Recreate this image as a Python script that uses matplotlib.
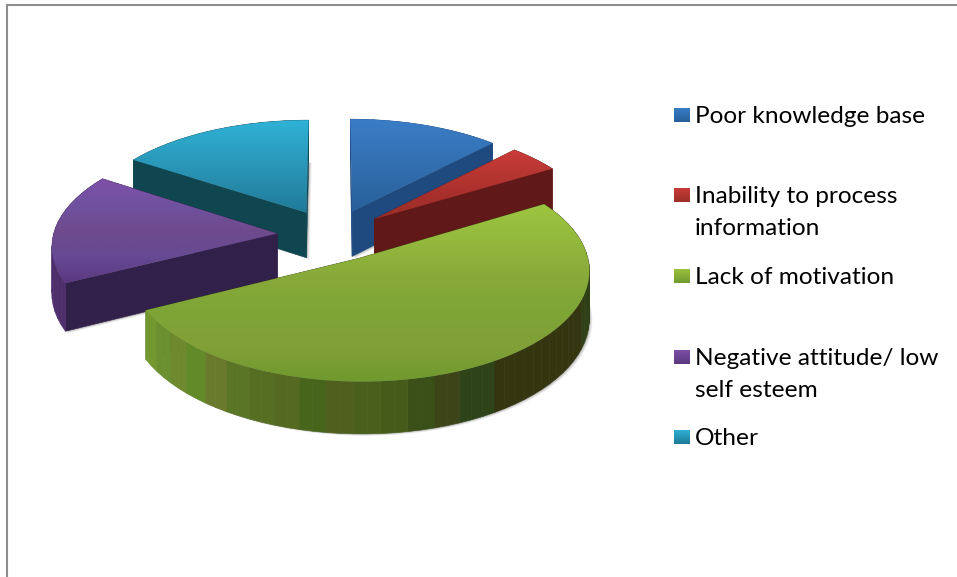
import numpy as np
import matplotlib
matplotlib.use("Agg")
import matplotlib.pyplot as plt
from matplotlib.patches import Polygon
from matplotlib.colors import LinearSegmentedColormap

labels = ["Poor knowledge base", "Inability to process\ninformation", "Lack of motivation",
          "Negative attitude/ low\nself esteem", "Other"]
values = [12.2, 4.2, 51.2, 16.6, 15.8]
top_colors = [["#3a7dc8", "#3674b8", "#2f6aa8", "#27609a"],
              ["#cb3c3a", "#b83632", "#a82f2c", "#9c2f28"],
              ["#9dc440", "#94b93d", "#88aa3a", "#7ea536", "#82a038", "#6f9a2e"],
              ["#7f50a8", "#7052a0", "#6f4a8c", "#664a94", "#5a3880"],
              ["#2eb2d6", "#2ca4c6", "#2a96b8", "#2588a8", "#1f7a98"]]
wall_colors = ["#1f4a80", "#601818", "#3a4a18", "#312049", "#0f4650"]
arc_colors = [["#1f4a80"], ["#601818"],
              ["#2f4016", "#2f4016", "#2f4016", "#2f4016", "#2f3f15", "#2f3f15", "#2f4016", "#2f3f15",
               "#33360f", "#33360f", "#33360f", "#33360f", "#33360f", "#33360f",
               "#2e4418", "#3d4418", "#3a5018", "#465a1a", "#4a5f1c", "#4f5f1e", "#48651c",
               "#556a20", "#556e22", "#5a7526", "#6a7a2c", "#628a28", "#6f8a2e", "#6a9030", "#72982f"],
              ["#4e2e6b", "#3d2558"], ["#0f4650"]]
draw_order = [4, 0, 1, 3, 2]
legend_y = [115, 195, 276, 357, 437]

W, H = 957, 577
CX, CY, R, B, K, DEPTH, EXPLODE = 332, 235, 224, 106, 0.10, 46, 0.245

fig = plt.figure(figsize=(W / 100, H / 100), dpi=100)
ax = fig.add_axes([7 / W, 0, (W - 7) / W, (H - 5) / H])
ax.set_xticks([]); ax.set_yticks([])
for s in ("right", "bottom"):
    ax.spines[s].set_visible(False)
for s in ("left", "top"):
    ax.spines[s].set_color("#8e8e8e"); ax.spines[s].set_linewidth(1.5)


def project(u, v, lift=0.0):
    s = 1 / (1 + K * np.asarray(v))
    return CX + R * np.asarray(u) * s, CY - B * np.asarray(v) * s + lift * s


def gradient(poly_xy, colors, zorder):
    poly = Polygon(poly_xy, closed=True, fc="none", ec="none", transform=ax.transData, zorder=zorder)
    ax.add_patch(poly)
    x0, y0 = poly_xy.min(axis=0); x1, y1 = poly_xy.max(axis=0)
    cmap = LinearSegmentedColormap.from_list("g", colors)
    im = ax.imshow(np.linspace(0, 1, 128)[:, None], cmap=cmap, aspect="auto", origin="upper",
                   extent=(x0, x1, y1, y0), zorder=zorder, interpolation="bilinear")
    im.set_clip_path(poly)


edges = np.radians(np.concatenate([[0], np.cumsum(values)]) * 360 / sum(values))
z = 1.0
for i in draw_order:
    a0, a1 = edges[i], edges[i + 1]
    mid = (a0 + a1) / 2
    ou, ov = EXPLODE * np.sin(mid), EXPLODE * np.cos(mid)
    t = np.linspace(a0, a1, max(6, int(np.degrees(a1 - a0) / 3)))
    u = ou + np.sin(t); v = ov + np.cos(t)
    tu = np.r_[ou, u]; tv = np.r_[ov, v]
    x, y = project(tu, tv)
    xb, yb = project(tu, tv, DEPTH)
    # soft shadow of the bottom outline
    for off, al in ((3, 0.10), (2, 0.15), (1, 0.2)):
        ax.add_patch(Polygon(np.c_[xb, yb] + [off, off * 0.6], closed=True, fc="#555555", ec="none",
                             alpha=al, zorder=z))
    z += 0.01
    # walls, back to front
    walls = []
    n = len(x)
    for a, b, col in ((0, 1, wall_colors[i]), (n - 1, 0, wall_colors[i])):
        walls.append((tv[a] + tv[b], [[x[a], y[a]], [x[b], y[b]], [xb[b], yb[b]], [xb[a], yb[a]]], col))
    stops = arc_colors[i]
    for j in range(1, n - 1):
        c = stops[int((j - 1) / (n - 2) * len(stops))]
        walls.append((2 * tv[j], [[x[j], y[j]], [x[j + 1], y[j + 1]], [xb[j + 1], yb[j + 1]], [xb[j], yb[j]]], c))
    for _, q, col in sorted(walls, key=lambda w: -w[0]):
        ax.add_patch(Polygon(q, closed=True, fc=col, ec=col, lw=0.4, zorder=z))
        z += 0.001
    z += 0.01
    gradient(np.c_[x, y], top_colors[i], z)
    z += 0.1

for label, ly, cols in zip(labels, legend_y, top_colors):
    sq = np.array([[674, ly - 7.5], [690, ly - 7.5], [690, ly + 7.5], [674, ly + 7.5]])
    gradient(sq, [cols[0], cols[-1]], z)
    for k, line in enumerate(label.split("\n")):
        ax.text(695, ly + 1.5 + k * 32, line, fontsize=17.6, family="Lato", color="black",
                va="center", ha="left", zorder=z + 1)

ax.set_xlim(7, W)
ax.set_ylim(H, 5)
fig.savefig("out.png", dpi=100)
